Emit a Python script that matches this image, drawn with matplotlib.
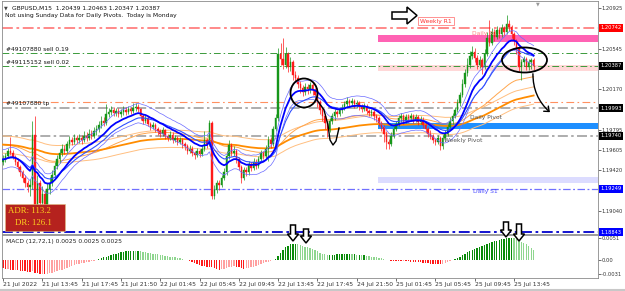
import matplotlib
matplotlib.use("Agg")
import matplotlib.pyplot as plt
import numpy as np
import pandas as pd
from matplotlib.patches import Ellipse, Polygon, Rectangle, FancyArrowPatch
from matplotlib.lines import Line2D

# ---------------- data (prices in pips above BASE) ----------------
BASE = 1.19
PIP = 0.0001
FIRST_OPEN_PIPS = 50

closes_pips = [
    52, 55, 60, 58, 54, 50, 45, 40, 35, 30, 26, 28,
    75, 10, 30, 12, 20, 8, 25,
    30, 38, 46, 52, 58, 62, 60, 66, 70, 68, 72, 70,
    72, 70, 74, 72, 76, 74, 78, 80, 84, 88, 86, 94,
    96, 98, 95, 97, 94, 96, 98, 96, 99, 97, 100, 101, 99,
    92, 88, 90, 85, 82, 84, 80, 78, 76, 79, 74, 72, 75, 70, 72, 68, 70, 66, 64, 60, 62, 58, 56, 60, 57, 62,
    70, 66, 86, 18, 24, 30, 28, 35, 40, 55, 65, 58, 60, 52, 45, 35, 42, 40, 48, 44, 50, 46, 52, 58, 55, 62, 70, 66, 80, 90,
    150, 145, 140, 150, 138, 142, 130, 128, 122, 118, 115, 119, 117, 121, 116, 112,
    105, 98, 92, 86, 80, 88, 92, 96, 94, 98, 100, 103, 106, 104, 106, 103, 104, 101, 99, 101, 97, 95, 96, 92, 90, 86, 82, 76, 68, 66, 74, 80, 85, 90,
    92, 88, 91, 90, 92, 89, 91, 87, 89, 84, 80, 76, 74, 70, 68, 72, 64,
    72, 76, 82, 88, 92, 98, 104, 112, 122, 132, 140, 148, 152, 146, 140, 144, 138,
    150, 165, 160, 170, 166, 172, 168, 174, 170, 178, 175, 168, 162, 155, 138, 142, 145, 138, 142, 143.9, 138.7,
]
highs_pips = [
    56, 58, 63, 73, 61, 56, 52, 47, 42, 38, 33, 34,
    88, 92, 38, 33, 27, 24, 30,
    36, 42, 50, 56, 62, 66, 65, 69, 74, 73, 76, 75,
    76, 75, 78, 77, 80, 79, 82, 84, 88, 92, 91, 103,
    100, 102, 101, 100, 100, 99, 102, 101, 102, 101, 104, 104, 103,
    100, 94, 93, 92, 87, 87, 86, 82, 80, 82, 80, 76, 78, 77, 75, 74, 73, 72, 68, 66, 65, 64, 60, 63, 62, 65,
    78, 72, 89, 88, 28, 33, 33, 38, 44, 60, 70, 67, 64, 62, 54, 47, 45, 45, 51, 50, 53, 52, 55, 61, 60, 65, 74, 73, 83, 94,
    155, 160, 165, 156, 152, 147, 144, 134, 130, 125, 121, 123, 122, 124, 123, 118,
    114, 107, 100, 94, 88, 90, 95, 99, 98, 101, 103, 106, 110, 108, 109, 108, 107, 106, 103, 104, 103, 99, 99, 98, 94, 92, 88, 84, 78, 71, 77, 83, 88, 93,
    95, 94, 94, 94, 95, 94, 94, 93, 92, 91, 86, 82, 79, 76, 72, 75, 74,
    75, 79, 85, 91, 95, 101, 108, 115, 127, 136, 146, 153, 157, 155, 149, 148, 146,
    154, 170, 181, 174, 173, 176, 175, 178, 176, 186, 181, 177, 170, 164, 157, 145, 148, 147, 145, 146, 146.3,
]
lows_pips = [
    47, 50, 53, 56, 52, 47, 42, 37, 31, 26, 22, 18,
    25, -8, -10, 5, 0, 2, 3,
    20, 27, 35, 43, 49, 55, 57, 58, 63, 65, 66, 67,
    67, 66, 68, 69, 70, 71, 72, 75, 77, 81, 83, 84,
    91, 93, 92, 92, 91, 91, 93, 93, 94, 94, 95, 97, 96,
    89, 85, 86, 83, 79, 80, 77, 75, 73, 74, 71, 69, 70, 67, 68, 65, 66, 63, 61, 57, 58, 55, 52, 54, 54, 55,
    60, 63, 64, 15, 15, 21, 24, 26, 33, 38, 52, 55, 55, 49, 42, 30, 33, 37, 38, 41, 42, 43, 44, 50, 52, 53, 51, 63, 64, 78,
    88, 140, 136, 137, 133, 134, 126, 124, 118, 114, 111, 112, 113, 114, 112, 108,
    101, 94, 88, 80, 73, 77, 85, 89, 91, 92, 95, 98, 101, 101, 102, 100, 100, 98, 96, 97, 94, 92, 92, 89, 87, 83, 78, 68, 62, 62, 64, 72, 78, 83,
    87, 85, 86, 87, 88, 86, 87, 84, 85, 81, 77, 73, 71, 67, 65, 66, 61,
    62, 70, 74, 80, 85, 90, 96, 102, 110, 119, 129, 137, 145, 142, 136, 137, 131,
    136, 148, 157, 158, 162, 164, 165, 166, 167, 168, 171, 165, 158, 150, 134, 126, 139, 135, 135, 136, 134.7,
]
# MACD(12,72,1) values in units of 0.0001
macd_pips = [
    -18, -20, -19, -21, -22, -21, -23, -24, -24, -25, -26, -26, -24,
    -28, -29, -31, -30, -31, -30, -29, -28,
    -27, -25, -23, -21, -19, -17, -15, -13, -11, -9, -7, -6,
    -5, -4, -3, -2, -1, 1,
    3, 5, 7, 9, 11, 13, 15, 16, 17,
    19, 20, 21, 22, 23, 23, 22, 22, 21, 20,
    19, 18, 17, 16, 15, 14, 13, 12, 11, 10, 9, 8, 7,
    6, 5, 3, 2, 0, -2, -4, -6, -8, -10, -12, -13, -14, -15, -16, -18,
    -20, -21, -20, -19, -17, -15, -14, -13, -14,
    -16, -18, -19, -18, -17, -16, -14, -12, -10, -8,
    -6, -4, -3, -1, 1, 4,
    10, 18, 24, 30, 34, 37, 38,
    39, 38, 36, 34, 32, 30, 29,
    27, 24, 21, 18, 16, 14, 13, 13,
    13, 13, 14, 14, 15, 15, 15, 15, 14, 14, 13, 13, 12, 12, 11, 10, 9,
    8, 7, 6, 5, 3, 2, 0, -1, -2, -2,
    -2, -2, -1, -2, -2, -3, -3, -3, -4, -4, -5, -6, -6, -7, -7, -8, -8,
    -9, -8, -6, -4, -2, 0,
    3, 6, 9, 12, 16, 19, 22, 25, 27, 29, 31, 33,
    35, 38, 40, 42, 44, 46, 47, 49, 50, 51, 52, 52,
    51, 49, 46, 43, 40, 37, 33, 29, 25,
]

x_tick_labels = ["21 Jul 2022", "21 Jul 13:45", "21 Jul 17:45", "21 Jul 21:50",
                 "22 Jul 01:45", "22 Jul 05:45", "22 Jul 09:45", "22 Jul 13:45",
                 "22 Jul 17:45", "24 Jul 21:50", "25 Jul 01:45", "25 Jul 05:45",
                 "25 Jul 09:45", "25 Jul 13:45"]
BARS_PER_LABEL = 16
# visible price scale labels (those hidden under coloured boxes are left out)
price_ticks = [1.20925, 1.20545, 1.20170, 1.19795, 1.19605, 1.19420, 1.19040]
macd_ticks = [0.0051, 0.0, -0.0031]
macd_tick_labels = ["0.0051", "0.00", "-0.0031"]

WEEKLY_R1 = 1.20742
SELL_019 = 1.20510
SELL_002 = 1.20390
TP_LEVEL = 1.20050
DAILY_PIVOT = 1.19993
WEEKLY_PIVOT = 1.19740
DAILY_S1 = 1.19249
LOW_LEVEL = 1.18843
PINK_ZONE = (1.20605, 1.20670)
LIGHT_PINK_ZONE = (1.20340, 1.20400)
BLUE_ZONE = (1.19800, 1.19860)
LAVENDER_ZONE = (1.19300, 1.19355)
ZONE_START_BAR = 152.6
ORANGE_SEED = 1.1966

boxed_labels = [(1.20742, "#ff0000"), (1.20387, "#000000"), (1.19993, "#000000"),
                (1.19740, "#000000"), (1.19249, "#0000ff"), (1.18843, "#0000ff")]

# ---------------- derived series ----------------
close = BASE + np.array(closes_pips) * PIP
high = BASE + np.array(highs_pips) * PIP
low = BASE + np.array(lows_pips) * PIP
opens = np.concatenate([[BASE + FIRST_OPEN_PIPS * PIP], close[:-1]])
macd = np.array(macd_pips) * PIP
n = len(close)
x = np.arange(n)

cs = pd.Series(close)
ema_fast = cs.ewm(span=14, adjust=False).mean().values
ema_mid = cs.ewm(span=21, adjust=False).mean().values
seeded = pd.Series(np.concatenate([[ORANGE_SEED], close]))
ema_slow = seeded.ewm(span=120, adjust=False).mean().values[1:]
ema_slow2 = seeded.ewm(span=60, adjust=False).mean().values[1:]

# ---------------- figure ----------------
W, H = 625, 291
fig = plt.figure(figsize=(W / 100, H / 100), dpi=100)
plt.rcParams['font.family'] = ['DejaVu Sans']


def P(px, py):
    return (px / W, 1 - py / H)


ax = fig.add_axes([2 / W, 1 - 234 / H, 596 / W, 233 / H])
axm = fig.add_axes([2 / W, 1 - 278 / H, 596 / W, 43 / H])

XMIN, XMAX = -0.41, 242.2
ax.set_xlim(XMIN, XMAX)
ax.set_ylim(1.18828, 1.20990)
axm.set_xlim(XMIN, XMAX)
axm.set_ylim(-0.00403, 0.00587)

for a in (ax, axm):
    for s in a.spines.values():
        s.set_color("#8a8a8a")
        s.set_linewidth(0.6)

FS = 4.3
FSA = 3.7

# horizontal levels
ax.axhline(WEEKLY_R1, color="#ff8080", ls=(0, (6, 2, 1.5, 2)), lw=1.3, zorder=2)
ax.axhline(SELL_019, color="#3a9a3a", ls=(0, (7, 3, 1.5, 3)), lw=0.7, zorder=2)
ax.axhline(SELL_002, color="#3a9a3a", ls=(0, (7, 3, 1.5, 3)), lw=0.7, zorder=2)
ax.axhline(TP_LEVEL, color="#ff9060", ls=(0, (7, 3, 1.5, 3)), lw=0.8, zorder=2)
ax.axhline(DAILY_PIVOT, color="#a0a0a0", ls=(0, (6, 2, 1.5, 2)), lw=1.2, zorder=2)
ax.axhline(WEEKLY_PIVOT, color="#a0a0a0", ls=(0, (6, 2, 1.5, 2)), lw=1.2, zorder=2)
ax.axhline(DAILY_S1, color="#7070ff", ls=(0, (6, 2, 1.5, 2)), lw=0.9, zorder=2)
ax.axhline(LOW_LEVEL, color="#0000cc", ls=(0, (6, 2, 1.5, 2)), lw=1.3, zorder=2)

# zones
for (lo, hi), col, z in [(PINK_ZONE, "#ff63b4", 3), (LIGHT_PINK_ZONE, "#ffd8d8", 1),
                         (BLUE_ZONE, "#1e8fff", 3), (LAVENDER_ZONE, "#dcdcff", 1)]:
    ax.add_patch(Rectangle((ZONE_START_BAR, lo), XMAX - ZONE_START_BAR, hi - lo,
                           facecolor=col, edgecolor="none", zorder=z))

# moving averages
ax.plot(x, ema_slow + 0.0008, color="#ffbf80", lw=0.7, zorder=4)
ax.plot(x, ema_slow - 0.0008, color="#ffbf80", lw=0.7, zorder=4)
ax.plot(x, ema_slow2, color="#ffa64d", lw=0.7, zorder=4)
ax.plot(x, ema_slow, color="#ff8c00", lw=1.3, zorder=4)
ax.plot(x, ema_fast + 0.0009, color="#6a6aff", lw=0.5, zorder=6)
ax.plot(x, ema_fast - 0.0009, color="#6a6aff", lw=0.5, zorder=6)
ax.plot(x, ema_mid, color="#3050ff", lw=0.8, zorder=6)
ax.plot(x, ema_fast, color="#0000ff", lw=1.3, zorder=6)

# candles
up = close >= opens
ccol = np.where(up, "#16961a", "#ff1a1a")
ax.vlines(x, low, high, colors=ccol, lw=0.5, zorder=5)
ax.bar(x, np.abs(close - opens), bottom=np.minimum(close, opens), width=0.6,
       color=ccol, edgecolor=ccol, linewidth=0.3, zorder=5)

# right axis ticks
ax.yaxis.tick_right()
ax.set_yticks(price_ticks)
ax.set_yticklabels([f"{t:.5f}" for t in price_ticks])
ax.tick_params(axis="y", labelsize=FSA, length=2, width=0.5, pad=0.8, colors="#333333")
ax.tick_params(axis="x", bottom=False, labelbottom=False)
for price, col in boxed_labels:
    ax.annotate(f"{price:.5f}", xy=(1, price), xycoords=("axes fraction", "data"),
                xytext=(1.5, 0), textcoords="offset points", ha="left", va="center",
                fontsize=FSA, color="white", zorder=20, annotation_clip=False,
                bbox=dict(boxstyle="square,pad=0.3", fc=col, ec="none"))

# MACD histogram
d = np.diff(np.concatenate([[macd[0]], macd]))
mcol = np.where(macd >= 0, np.where(d >= 0, "#0a8a0a", "#8fd68f"),
                np.where(d <= 0, "#ff1a1a", "#ffa0a0"))
axm.bar(x, macd, width=0.55, color=mcol, linewidth=0)
axm.yaxis.tick_right()
axm.set_yticks(macd_ticks)
axm.set_yticklabels(macd_tick_labels)
axm.tick_params(axis="y", labelsize=FSA, length=2, width=0.5, pad=0.8, colors="#333333")
ticks_x = np.arange(len(x_tick_labels)) * BARS_PER_LABEL
axm.set_xticks(ticks_x)
axm.set_xticklabels(x_tick_labels, ha="left")
axm.tick_params(axis="x", labelsize=FS, length=2, width=0.5, pad=1.2, colors="#333333")
axm.text(0.006, 0.9, "MACD (12,72,1) 0.0025 0.0025 0.0025", transform=axm.transAxes,
         fontsize=FS, va="top", ha="left", color="#222222")

# texts on main panel
def txt(px, py, s, **kw):
    kw.setdefault("fontsize", FS)
    kw.setdefault("color", "#111111")
    kw.setdefault("va", "center")
    kw.setdefault("ha", "left")
    fig.text(*P(px, py), s, **kw)

txt(12, 8, "GBPUSD,M15  1.20439 1.20463 1.20347 1.20387")
fig.text(*P(6, 8), "\u25BC", fontsize=3.5, color="#444444", va="center", ha="center")
txt(5, 16, "Not using Sunday Data for Daily Pivots.  Today is Monday")
txt(6, 49.5, "#49107880 sell 0.19")
txt(6, 62, "#49115152 sell 0.02")
txt(6, 103, "#49107880 tp")
txt(420, 21, "Weekly R1", color="#ff3030",
    bbox=dict(boxstyle="square,pad=0.3", fc="white", ec="#ff8080", lw=0.6))
fig.text(*P(472, 33), "Daily R1", fontsize=FS, color="#ff8080", va="center", ha="left", zorder=0)
txt(470, 117, "Daily Pivot", color="#555555")
txt(444, 140, "Weekly Pivot", color="#555555")
txt(473, 192, "Daily S1", color="#4a4aff")
fig.text(*P(538, 4), "\u25BC", fontsize=3.5, color="#999999", va="center", ha="center")

# ADR box
fig.patches.append(Rectangle(P(5, 231), 60 / W, 27 / H, transform=fig.transFigure,
                             fc="#b5221e", ec="#e0c080", lw=0.4, zorder=10))
fig.text(*P(8, 211), "ADR: 113.2", fontsize=6.3, color="#ffd21f", va="center", ha="left",
         family=["Liberation Serif"], zorder=11)
fig.text(*P(15, 223), "DR: 126.1", fontsize=6.3, color="#ffd21f", va="center", ha="left",
         family=["Liberation Serif"], zorder=11)

# hand-drawn annotations (pixel coordinates of the screenshot)
def block_arrow(tail, tip, body_w, head_w, head_len):
    tail = np.array(tail, float); tip = np.array(tip, float)
    dvec = tip - tail; L = np.hypot(*dvec); u = dvec / L; nn = np.array([-u[1], u[0]])
    base = tip - u * head_len
    pts = [tail + nn * body_w / 2, base + nn * body_w / 2, base + nn * head_w / 2, tip,
           base - nn * head_w / 2, base - nn * body_w / 2, tail - nn * body_w / 2]
    pts = [P(*p) for p in pts]
    fig.patches.append(Polygon(pts, closed=True, transform=fig.transFigure,
                               fc="white", ec="black", lw=1.1, zorder=15))

block_arrow((392, 15.5), (417, 15.5), 7, 17, 10)
block_arrow((293, 225), (293, 241), 5, 11, 7)
block_arrow((306, 229), (306, 243), 5, 11, 7)
block_arrow((506, 222), (506, 237), 5, 11, 7)
block_arrow((519, 224), (519, 241), 5, 11, 7)

for cx, cy, w, h in [(304, 93, 27, 29), (524.5, 60, 45, 25)]:
    fig.patches.append(Ellipse(P(cx, cy), w / W, h / H, transform=fig.transFigure,
                               fill=False, ec="black", lw=1.3, zorder=15))

hook = [(317, 100), (324, 110), (328, 125), (330, 140), (333, 145), (336, 141), (339, 128)]
fig.lines.append(Line2D([P(*p)[0] for p in hook], [P(*p)[1] for p in hook],
                        transform=fig.transFigure, color="black", lw=1.0, zorder=15))
arr = FancyArrowPatch(P(533, 71), P(552, 114), transform=fig.transFigure,
                      connectionstyle="arc3,rad=0.25", arrowstyle="->,head_length=3,head_width=2.5",
                      color="black", lw=1.0, zorder=15)
fig.patches.append(arr)

# bottom scroll strip
fig.lines.append(Line2D([0, 1], [1 - 289.5 / H] * 2, transform=fig.transFigure,
                        color="#c8c8c8", lw=1.5))

fig.savefig("out.png", dpi=100)
